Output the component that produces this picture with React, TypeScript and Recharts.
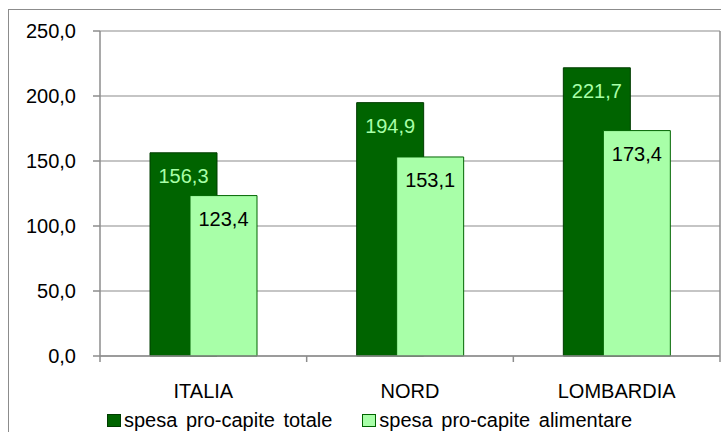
import { BarChart, Bar, XAxis, YAxis, CartesianGrid, Legend, LabelList } from 'recharts'

const categories = ['ITALIA', 'NORD', 'LOMBARDIA']
const spesaTotale = [156.3, 194.9, 221.7]
const spesaAlimentare = [123.4, 153.1, 173.4]
const seriesNames = ['spesa pro-capite totale', 'spesa pro-capite alimentare']
const yTicks = [0, 50, 100, 150, 200, 250]

const data = categories.map((name, i) => ({
  name,
  totale: spesaTotale[i],
  alimentare: spesaAlimentare[i],
}))

const DARK = '#006400'
const LIGHT = '#a8ffa8'
const GRID = '#8c8c8c'
const FONT = '"Liberation Sans", Arial, sans-serif'
const X_TICK_SIZE = 6
const X_TICK_MARGIN = 22

const fmt = (v: number) => v.toFixed(1).replace('.', ',')

function CategoryTick(props: any) {
  const { x, y, payload, index, visibleTicksCount, width } = props
  const half = payload && payload.offset ? payload.offset : width / visibleTicksCount / 2
  const axisY = y - X_TICK_SIZE - X_TICK_MARGIN
  return (
    <g>
      {index === 0 && (
        <line x1={x - half} x2={x - half} y1={axisY} y2={axisY + X_TICK_SIZE} stroke={GRID} strokeWidth={1.5} />
      )}
      <line x1={x + half} x2={x + half} y1={axisY} y2={axisY + X_TICK_SIZE} stroke={GRID} strokeWidth={1.5} />
      <text x={x} y={y} dy="0.71em" textAnchor="middle" fill="#000" fontSize={20} fontFamily={FONT}>
        {payload.value}
      </text>
    </g>
  )
}

function LegendContent() {
  const items = [
    { label: seriesNames[0], fill: DARK, stroke: '#003c00' },
    { label: seriesNames[1], fill: LIGHT, stroke: DARK },
  ]
  return (
    <div style={{ display: 'flex', paddingLeft: 107, height: 22, lineHeight: '22px', fontSize: 20, fontFamily: FONT, color: '#000' }}>
      {items.map((it, i) => (
        <div key={i} style={{ display: 'flex', alignItems: 'center', marginRight: 30 }}>
          <span style={{ display: 'inline-block', width: 12, height: 11, background: it.fill, border: `1px solid ${it.stroke}`, marginRight: 3 }} />
          <span style={{ wordSpacing: 3 }}>{it.label}</span>
        </div>
      ))}
    </div>
  )
}

export default function App() {
  return (
    <div style={{ position: 'fixed', left: 0, top: 0, width: 721, height: 432, overflow: 'hidden', background: '#fff', fontFamily: FONT }}>
      <div style={{ position: 'absolute', left: 8, top: 9, width: 760, height: 460, border: `1px solid ${GRID}` }} />
      <div style={{ position: 'absolute', left: 0, top: 0 }}>
        <BarChart
          width={721}
          height={432}
          data={data}
          margin={{ top: 31, right: 0, left: 0, bottom: 0 }}
          barSize={67}
          barGap={-27}
        >
          <CartesianGrid vertical={false} stroke={GRID} strokeWidth={1.2} />
          <XAxis
            dataKey="name"
            height={54}
            axisLine={{ stroke: GRID, strokeWidth: 1.5 }}
            tickLine={false}
            tickSize={X_TICK_SIZE}
            tickMargin={X_TICK_MARGIN}
            tick={<CategoryTick />}
            interval={0}
          />
          <YAxis
            width={100}
            domain={[0, 250]}
            ticks={yTicks}
            tickFormatter={fmt}
            axisLine={{ stroke: GRID, strokeWidth: 1.5 }}
            tickLine={{ stroke: GRID, strokeWidth: 1.5 }}
            tickSize={7}
            tickMargin={17}
            tick={{ fill: '#000', fontSize: 20, fontFamily: FONT }}
          />
          <YAxis
            yAxisId="right"
            orientation="right"
            width={1}
            domain={[0, 250]}
            tick={false}
            tickLine={false}
            axisLine={{ stroke: GRID, strokeWidth: 1.5 }}
          />
          <Legend verticalAlign="bottom" wrapperStyle={{ left: 0, top: 409, bottom: 'auto', width: 721, height: 22 }} content={<LegendContent />} />
          <Bar dataKey="totale" name={seriesNames[0]} fill={DARK} stroke="#003c00" strokeWidth={1} isAnimationActive={false}>
            <LabelList dataKey="totale" position="insideTop" offset={16} formatter={(v: any) => fmt(Number(v))} fill={LIGHT} fontSize={20} fontFamily={FONT} />
          </Bar>
          <Bar dataKey="alimentare" name={seriesNames[1]} fill={LIGHT} stroke={DARK} strokeWidth={1} isAnimationActive={false}>
            <LabelList dataKey="alimentare" position="insideTop" offset={16} formatter={(v: any) => fmt(Number(v))} fill="#000" fontSize={20} fontFamily={FONT} />
          </Bar>
        </BarChart>
      </div>
    </div>
  )
}
